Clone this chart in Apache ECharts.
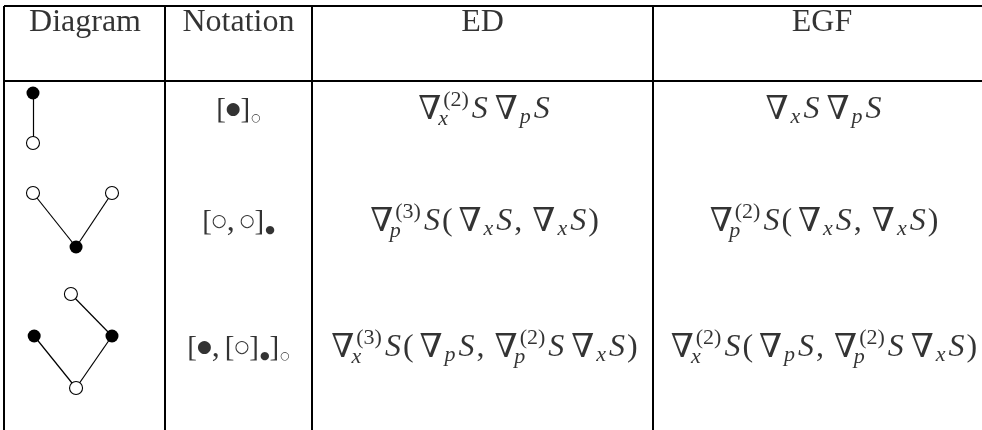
<!DOCTYPE html>
<html>
<head>
<meta charset="utf-8">
<script src="https://cdn.jsdelivr.net/npm/echarts@6.0.0/dist/echarts.min.js"></script>
<style>
  html, body { margin: 0; padding: 0; background: #fff; }
  #table_chart { width: 982px; height: 430px; }
</style>
</head>
<body>
<div id="table_chart"></div>
<script>
// table content
const headers = ['Diagram', 'Notation', 'ED', 'EGF']
const notations = ['[\\bullet]_\\circ', '[\\circ,\\circ]_\\bullet', '[\\bullet,[\\circ]_\\bullet]_\\circ']
const edTerms = [
    '\\nabla_x^{(2)} S \\nabla_p S',
    '\\nabla_p^{(3)} S(\\nabla_x S,\\nabla_x S)',
    '\\nabla_x^{(3)} S(\\nabla_p S,\\nabla_p^{(2)} S \\nabla_x S)'
]
const egfTerms = [
    '\\nabla_x S \\nabla_p S',
    '\\nabla_p^{(2)} S(\\nabla_x S,\\nabla_x S)',
    '\\nabla_x^{(2)} S(\\nabla_p S,\\nabla_p^{(2)} S \\nabla_x S)'
]

// tree diagrams (x: node spacing units, y: levels going down)
const nodeX = [0, 0, 0, 2, 1.09, 0.96, 0.03, 2, 1.09]
const nodeY = [0.22, 1.22, 2.22, 2.22, 3.3, 4.24, 5.08, 5.08, 6.12]
const nodeFilled = [1, 0, 0, 0, 1, 0, 1, 1, 0]
const edgeFrom = [0, 2, 3, 5, 6, 7]
const edgeTo = [1, 4, 4, 7, 8, 8]

// layout (table units = px from table corner)
const colCenters = [81, 234.5, 478.5, 818]
const rowCenters = [16.5, 104, 216, 342]
const colRules = [0, 160.5, 307.5, 649]
const rowRules = [0, 75]

const SERIF = "'Liberation Serif', 'DejaVu Serif', serif"
const SYM = "'DejaVu Sans', sans-serif"
const MAIN = 32
const SCRIPT = 22

const script = (extra) => Object.assign({ fontFamily: SERIF, fontSize: SCRIPT }, extra)
const rich = {
    hd: { fontFamily: SERIF, fontSize: 32 },
    it: { fontFamily: SERIF, fontStyle: 'italic', fontSize: MAIN, padding: [0, 2, 0, 0] },
    rm: { fontFamily: SERIF, fontSize: MAIN, padding: [0, 1, 0, 0] },
    nb: { fontFamily: SERIF, fontSize: 33, padding: [0, 2, 0, 5] },
    br: { fontFamily: SERIF, fontSize: 29 },
    cm: { fontFamily: SERIF, fontSize: MAIN, padding: [0, 5, 0, 0] },
    dot: { fontFamily: SYM, fontSize: 17 },
    // lone subscript
    sit: script({ fontStyle: 'italic', padding: [14, 3, 0, 0] }),
    srm: script({ padding: [14, 3, 0, 0] }),
    sdot: { fontFamily: SYM, fontSize: 11, padding: [16, 0, 0, 1] },
    // subscript under a superscript, takes no width
    qit: script({ fontStyle: 'italic', padding: [19, 0, 0, 0], width: 0 }),
    qrm: script({ padding: [19, 0, 0, 0], width: 0 }),
    // superscript
    pit: script({ fontStyle: 'italic', padding: [0, 3, 19, 0] }),
    prm: script({ padding: [0, 3, 19, 0] })
}

const charClass = (ch) => {
    if (/[A-Za-z]/.test(ch)) return 'it'
    if (ch === '∇') return 'nb'
    if (ch === '●' || ch === '○') return 'dot'
    if (ch === '[' || ch === ']') return 'br'
    if (ch === ',') return 'cm'
    return 'rm'
}

// small tex-like string -> echarts rich text
const texToRich = (src) => {
    const s = src.replace(/\\nabla/g, '∇').replace(/\\bullet/g, '●').replace(/\\circ/g, '○').replace(/ /g, '')
    let out = ''
    let i = 0
    const arg = () => {
        if (s[i] === '{') {
            const j = s.indexOf('}', i)
            const g = s.slice(i + 1, j)
            i = j + 1
            return g
        }
        return s[i++]
    }
    const emit = (text, prefix) => {
        let cur = ''
        let curCls = null
        for (const ch of text) {
            let c = charClass(ch)
            if (prefix && c !== 'it' && c !== 'dot') c = 'rm' // scripts: italic, dot or roman
            if (c !== curCls && cur) {
                out += '{' + prefix + curCls + '|' + cur + '}'
                cur = ''
            }
            cur += ch
            curCls = c
        }
        if (cur) out += '{' + prefix + curCls + '|' + cur + '}'
    }
    while (i < s.length) {
        const ch = s[i]
        if (ch === '_' || ch === '^') {
            i++
            const a = arg()
            let sub = ch === '_' ? a : null
            let sup = ch === '^' ? a : null
            if (s[i] === '_' || s[i] === '^') {
                const k = s[i]
                i++
                const b = arg()
                if (k === '_') sub = b
                else sup = b
            }
            if (sub != null && sup != null) {
                emit(sub, 'q')
                emit(sup, 'p')
            } else if (sub != null) {
                emit(sub, 's')
            } else {
                emit(sup, 'p')
            }
        } else {
            emit(ch, '')
            i++
        }
    }
    return out
}

// text cells
const cells = []
headers.forEach((h, c) => {
    cells.push({ value: [colCenters[c], rowCenters[0]], label: { formatter: '{hd|' + h + '}' } })
})
const bodyCols = [notations, edTerms, egfTerms]
bodyCols.forEach((col, k) => {
    col.forEach((t, r) => {
        cells.push({ value: [colCenters[k + 1], rowCenters[r + 1]], label: { formatter: texToRich(t) } })
    })
})

const nodes = nodeX.map((x, i) => ({
    value: [x, nodeY[i]],
    itemStyle: nodeFilled[i]
        ? { color: '#000', borderColor: '#000', borderWidth: 0 }
        : { color: '#fff', borderColor: '#000', borderWidth: 1.1 }
}))
const links = edgeFrom.map((s, i) => ({ source: s, target: edgeTo[i] }))

const chart = echarts.init(document.getElementById('table_chart'), null, { renderer: 'canvas' })
const option = {
    backgroundColor: '#fff',
    animation: false,
    grid: [
        { left: 4, right: 0, top: 6, bottom: 0 },   // whole table
        { left: 4, width: 161, top: 82, bottom: 0 }  // diagram column
    ],
    xAxis: [
        { type: 'value', gridIndex: 0, min: 0, max: 978, show: false },
        { type: 'value', gridIndex: 1, min: -0.734, max: 3.342, show: false }
    ],
    yAxis: [
        { type: 'value', gridIndex: 0, min: 0, max: 424, inverse: true, show: false },
        { type: 'value', gridIndex: 1, min: 0, max: 6.96, inverse: true, show: false }
    ],
    series: [
        {
            type: 'scatter',
            xAxisIndex: 0,
            yAxisIndex: 0,
            symbolSize: 1,
            clip: false,
            silent: true,
            itemStyle: { color: 'rgba(0,0,0,0)' },
            label: {
                show: true,
                position: 'inside',
                color: '#000',
                fontFamily: SERIF,
                fontSize: MAIN,
                rich: rich
            },
            data: cells,
            markLine: {
                silent: true,
                symbol: ['none', 'none'],
                label: { show: false },
                lineStyle: { color: '#000', width: 2, type: 'solid' },
                emphasis: { disabled: true },
                data: colRules.map(v => ({ xAxis: v })).concat(rowRules.map(v => ({ yAxis: v })))
            }
        },
        {
            type: 'graph',
            coordinateSystem: 'cartesian2d',
            xAxisIndex: 1,
            yAxisIndex: 1,
            silent: true,
            symbol: 'circle',
            symbolSize: 13,
            label: { show: false },
            lineStyle: { color: '#000', width: 1.2, opacity: 1, curveness: 0 },
            data: nodes,
            links: links
        }
    ]
}
chart.setOption(option)
</script>
</body>
</html>
